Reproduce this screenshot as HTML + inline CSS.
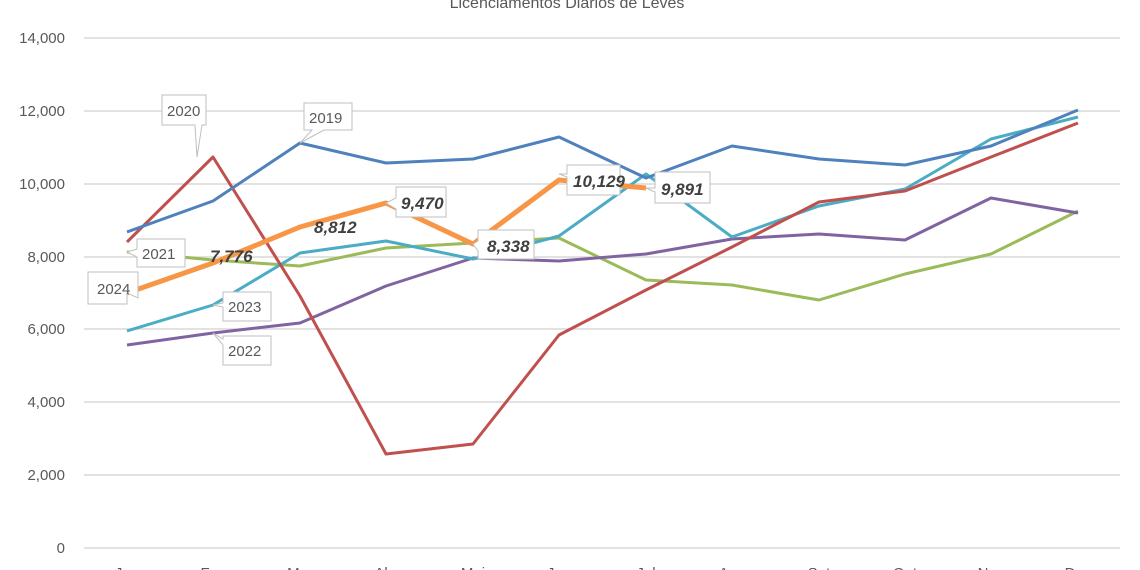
<!DOCTYPE html>
<html><head><meta charset="utf-8"><style>
html,body{margin:0;padding:0;background:#fff;}
svg{display:block;font-family:"Liberation Sans",sans-serif;}
</style></head><body>
<svg width="1140" height="570" viewBox="0 0 1140 570">
<text x="567" y="8" text-anchor="middle" font-size="16" fill="#595959">Licenciamentos Diários de Leves</text>
<g stroke="#d9d9d9" stroke-width="1.5">
<line x1="84" x2="1120" y1="38" y2="38"/><line x1="84" x2="1120" y1="111" y2="111"/>
<line x1="84" x2="1120" y1="184" y2="184"/><line x1="84" x2="1120" y1="257" y2="257"/>
<line x1="84" x2="1120" y1="329" y2="329"/><line x1="84" x2="1120" y1="402" y2="402"/>
<line x1="84" x2="1120" y1="475" y2="475"/><line x1="84" x2="1120" y1="548" y2="548"/>
</g>
<g font-size="15" fill="#595959" text-anchor="end">
<text x="65" y="43">14,000</text><text x="65" y="116">12,000</text><text x="65" y="189">10,000</text>
<text x="65" y="262">8,000</text><text x="65" y="334">6,000</text><text x="65" y="407">4,000</text>
<text x="65" y="480">2,000</text><text x="65" y="553">0</text>
</g>
<g font-size="15" fill="#595959" text-anchor="middle">
<text x="127" y="578">Jan</text><text x="213" y="578">Fev</text><text x="300" y="578">Mar</text><text x="386" y="578">Abr</text>
<text x="473" y="578">Mai</text><text x="559" y="578">Jun</text><text x="646" y="578">Jul</text><text x="732" y="578">Ago</text>
<text x="819" y="578">Set</text><text x="905" y="578">Out</text><text x="991" y="578">Nov</text><text x="1078" y="578">Dez</text>
</g>
<g fill="none" stroke-width="3" stroke-linejoin="round">
<polyline stroke="#9bbb59" points="127,252 213,260 300,266 386,248 473,243 559,238 646,280 732,285 819,300 905,274 991,254 1078,211"/>
<polyline stroke="#8064a2" points="127,345 213,333 300,323 386,286 473,258 559,261 646,254 732,239 819,234 905,240 991,198 1078,213"/>
<polyline stroke="#4bacc6" points="127,331 213,305 300,253 386,241 473,259 559,236 646,174 732,237 819,206 905,189 991,139 1078,117"/>
<polyline stroke="#c0504d" points="127,242 213,157 300,296 386,454 473,444 559,335 646,290 732,247 819,202 905,191 991,157 1078,123"/>
<polyline stroke="#4f81bd" points="127,232 213,201 300,143 386,163 473,159 559,137 646,178 732,146 819,159 905,165 991,146 1078,110"/>
<polyline stroke="#f79646" stroke-width="5" points="127,293 213,263 300,227 386,203 473,244 559,180 646,188"/>
</g>
<g font-size="15" fill="#595959" stroke="#bfbfbf">
<path d="M162,95 h44 v30 h-4 l-5,32 l-2,-32 h-33z" fill="#fff"/>
<text x="167" y="116" stroke="none">2020</text>
<path d="M304,103 h48 v27 h-28 l-24,13 l12,-13 h-8z" fill="#fff"/>
<text x="309" y="123" stroke="none">2019</text>
<path d="M137,239 h48 v28 h-48 v-10 l-10,-5 l10,-3z" fill="#fff"/>
<text x="142" y="259" stroke="none">2021</text>
<path d="M88,272 h50 v26 l-11,-5 v11 h-39z" fill="#fff"/>
<text x="97" y="294" stroke="none">2024</text>
<path d="M223,292 h48 v29 h-48 v-14 l-10,-2 l10,-2z" fill="#fff"/>
<text x="228" y="312" stroke="none">2023</text>
<path d="M223,336 h48 v29 h-48 v-20 l-10,-12 l10,6z" fill="#fff"/>
<text x="228" y="356" stroke="none">2022</text>
<path d="M396,187 h50 v30 h-50 v-8 l-10,-6 l10,-5z" fill="#fff"/>
<path d="M478,230 h56 v29 h-56 v-8 l-5,-7 l5,-3z" fill="#fff"/>
<path d="M567,165 h53 v30 h-53 v-18 l-8,-3 l8,0z" fill="#fff"/>
<path d="M655,172 h55 v31 h-55 v-11 l-9,-4 l9,0z" fill="#fff"/>
</g>
<g font-size="17" font-weight="bold" font-style="italic" fill="#404040">
<text x="210" y="262">7,776</text>
<text x="314" y="233">8,812</text>
<text x="401" y="209">9,470</text>
<text x="487" y="252">8,338</text>
<text x="573" y="187">10,129</text>
<text x="661" y="195">9,891</text>
</g>
</svg>
</body></html>
